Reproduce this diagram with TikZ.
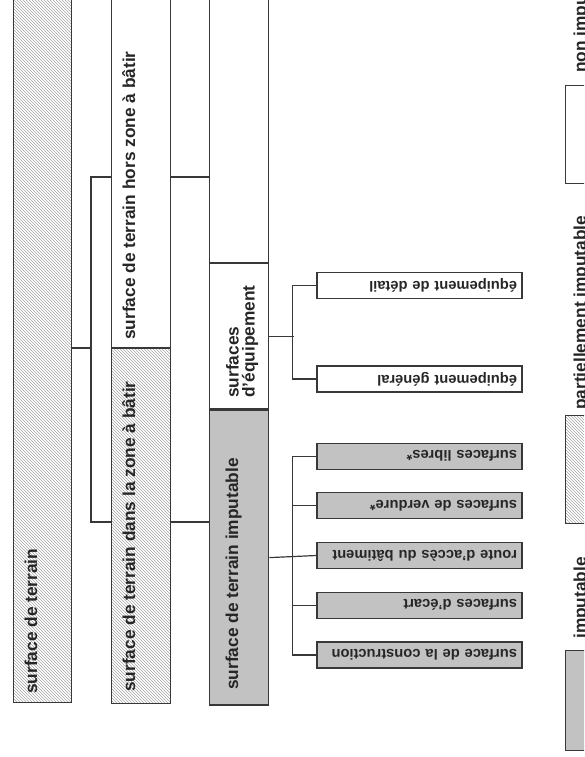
\documentclass[tikz,border=0pt]{standalone}
\usepackage{fontspec}
\setsansfont{Liberation Sans}
\usepackage{graphicx}
\usetikzlibrary{positioning, patterns}
\definecolor{boxline}{gray}{0.22}
\definecolor{imputfill}{gray}{0.76}
\newcommand{\flipped}[1]{\rotatebox{180}{#1}}
\tikzset{
    every node/.style={font=\sffamily\bfseries, text=black!85}, % all texts in bold sans
    box/.style={draw=boxline, line width=1.4pt, minimum width=59pt, inner sep=0pt}, % the long column boxes
    hatched/.style={pattern=north west lines, pattern color=gray!70}, % partly imputable
    grayfill/.style={fill=imputfill}, % imputable
    vlabel/.style={rotate=90, anchor=base west, inner sep=0pt, font=\sffamily\bfseries\fontsize{17.3}{16}\selectfont}, % text running upwards
    leaf/.style={draw=boxline, line width=1.2pt, text width=195pt, inner xsep=5pt, minimum height=26pt, align=right, font=\sffamily\bfseries\fontsize{14.7}{17}\selectfont}, % small boxes on the right
    link/.style={draw=boxline, line width=1.2pt}, % tree lines
}
\begin{document}
\begin{tikzpicture}[x=1pt, y=-1pt, node distance=0pt]
\useasboundingbox (0,0) rectangle (584,757);
\clip (0,0) rectangle (584,757);
% first column
\node[box, hatched, minimum width=58pt, minimum height=710pt, anchor=south west] (terrain) at (13,703) {};
\node[vlabel] (terrain-txt) at (37,694) {surface de terrain};
% second column
\node[box, minimum height=355pt, anchor=south west] (horszone) at (111,348) {};
\node[box, hatched, minimum height=355pt, below=of horszone] (danszone) {};
\node[vlabel] (horszone-txt) at (135,340) {surface de terrain hors zone à bâtir};
\node[vlabel] (danszone-txt) at (135,692) {surface de terrain dans la zone à bâtir};
% third column
\node[box, minimum height=270pt, anchor=south west] (nonimput) at (209,263) {};
\node[box, minimum height=145pt, below=of nonimput] (equip) {};
\node[box, grayfill, minimum height=295pt, below=of equip] (imput) {};
\node[vlabel] (imput-txt) at (238,690) {surface de terrain imputable};
\node[vlabel, anchor=north west, align=left] (equip-txt) at (226,398) {surfaces\\d'équipement};
% leaves
\node[leaf, grayfill] (route) at (419.5,555.5) {\flipped{route d'accès du bâtiment}};
\node[leaf, grayfill, above=22.5pt of route] (verdure) {\flipped{surfaces de verdure*}};
\node[leaf, grayfill, above=22.5pt of verdure] (libres) {\flipped{surfaces libres*}};
\node[leaf, grayfill, below=22.5pt of route] (ecart) {\flipped{surfaces d'écart}};
\node[leaf, grayfill, below=22.5pt of ecart] (constr) {\flipped{surface de la construction}};
\node[leaf, above=50pt of libres] (general) {\flipped{équipement général}};
\node[leaf, above=66pt of general] (detail) {\flipped{équipement de détail}};
% tree lines
\coordinate (sp1top) at (91,177);
\coordinate (sp1mid) at (91,348);
\coordinate (sp1bot) at (91,522);
\draw[link] (sp1mid -| terrain.east) -- (sp1mid);
\draw[link] (sp1top -| horszone.west) -- (sp1top) -- (sp1bot) -- (sp1bot -| danszone.west);
\draw[link] (sp1top -| horszone.east) -- (sp1top -| nonimput.west);
\draw[link] (sp1bot -| danszone.east) -- (sp1bot -| imput.west);
\draw[link] (equip.east) -- ++(25,0);
\draw[link] (detail.west) -- ++(-24,0) |- (general.west);
\draw[link] (imput.east) -- (route.west);
\draw[link] (libres.west) -- ++(-24,0) |- (constr.west);
\draw[link] (verdure.west) -- ++(-24,0);
\draw[link] (ecart.west) -- ++(-24,0);
% legend
\node[box, grayfill, minimum width=40pt, minimum height=100pt, anchor=north west] (leg-imput) at (565,650) {};
\node[box, hatched, minimum width=40pt, minimum height=108pt, anchor=north west] (leg-part) at (565,415) {};
\node[box, minimum width=40pt, minimum height=98pt, anchor=north west] (leg-non) at (565,85) {};
\node[vlabel] (leg-imput-txt) at (586,639) {imputable};
\node[vlabel] (leg-part-txt) at (586,410) {partiellement imputable};
\node[vlabel] (leg-non-txt) at (586,73) {non imputable};
\end{tikzpicture}
\end{document}
